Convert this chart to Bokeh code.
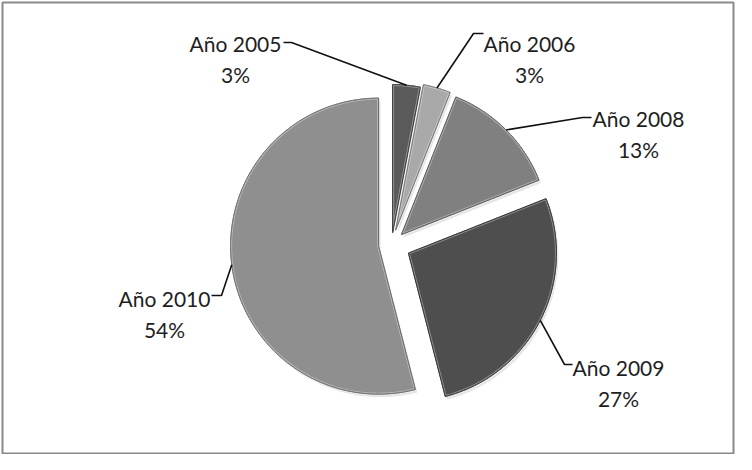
import numpy as np
from bokeh.plotting import figure
from bokeh.models import Range1d, ColumnDataSource
from bokeh.core.properties import value
from bokeh.embed import file_html
from bokeh.resources import INLINE

# ---- data ----
years = ["Año 2005", "Año 2006", "Año 2008", "Año 2009", "Año 2010"]
values = [3, 3, 13, 27, 54]

# ---- styles / layout (page pixels, y downward) ----
colors = ["#5a5a5a", "#a9a9a9", "#808080", "#4e4e4e", "#8f8f8f"]
edge_colors = ["#3c3c3c", "#7a7a7a", "#5e5e5e", "#333333", "#6c6c6c"]
CX, CY, R = 399, 252, 148
explode = [12, 15, 14, 19, 13]
title_pos = [(243, 51), (537, 51), (646, 126), (626, 375), (172, 306)]
pct_dy = 31
leader_h = [((291, 50), (299, 50)), ((491, 41), (481, 41)),
            ((599, 125), (590, 125)), ((580, 372), (572, 372)),
            ((219, 303), (229, 303))]
PAGE_H = 470


def Y(y):
    return PAGE_H - y


p = figure(width=736, height=454, output_backend="svg", toolbar_location=None,
           x_range=Range1d(10, 741), y_range=Range1d(8, 460),
           x_axis_type=None, y_axis_type=None,
           min_border_left=2, min_border_right=3, min_border_top=2, min_border_bottom=0)
p.outline_line_color = "#8a8a8a"
p.outline_line_width = 2
p.background_fill_color = "white"
p.border_fill_color = "white"

total = float(sum(values))
fr = np.array(values) / total
ends = np.cumsum(fr) * 360.0
starts = np.concatenate([[0.0], ends[:-1]])

for i in range(len(values)):
    t0, t1 = starts[i], ends[i]
    mid = np.radians((t0 + t1) / 2.0)
    ax = CX + explode[i] * np.sin(mid)
    ay = CY - explode[i] * np.cos(mid)
    n = max(6, int((t1 - t0) * 1.5))
    tt = np.radians(np.linspace(t0, t1, n))
    xs = np.concatenate([[ax], ax + R * np.sin(tt)])
    ys = np.concatenate([[ay], ay - R * np.cos(tt)])
    # soft shadow
    p.patch(xs + 2, Y(ys + 3), fill_color="#000000", fill_alpha=0.10, line_alpha=0)
    p.patch(xs, Y(ys), fill_color=colors[i], line_color=edge_colors[i], line_width=1)
    # bevel highlight
    p.patch(xs, Y(ys), fill_alpha=0, line_color="white", line_alpha=0.35, line_width=3)
    p.patch(xs, Y(ys), fill_alpha=0, line_color=edge_colors[i], line_width=1)

    # leader line: text -> elbow -> middle of the arc
    mx = ax + R * np.sin(mid)
    my = ay - R * np.cos(mid)
    (hx0, hy0), (hx1, hy1) = leader_h[i]
    p.line([hx0, hx1, mx], [Y(hy0), Y(hy1), Y(my)], line_color="#111111", line_width=1.6)

    pct = f"{int(round(fr[i] * 100))}%"
    tx, ty = title_pos[i]
    p.text(x=[tx], y=[Y(ty)], text=[years[i]], text_align="center",
           text_baseline="alphabetic", text_font=value("Lato"),
           text_font_size="21px", text_color="#1e1e1e")
    p.text(x=[tx], y=[Y(ty + pct_dy)], text=[pct], text_align="center",
           text_baseline="alphabetic", text_font=value("Lato"),
           text_font_size="21px", text_color="#1e1e1e")

open("out.html", "w").write(file_html(p, INLINE))
